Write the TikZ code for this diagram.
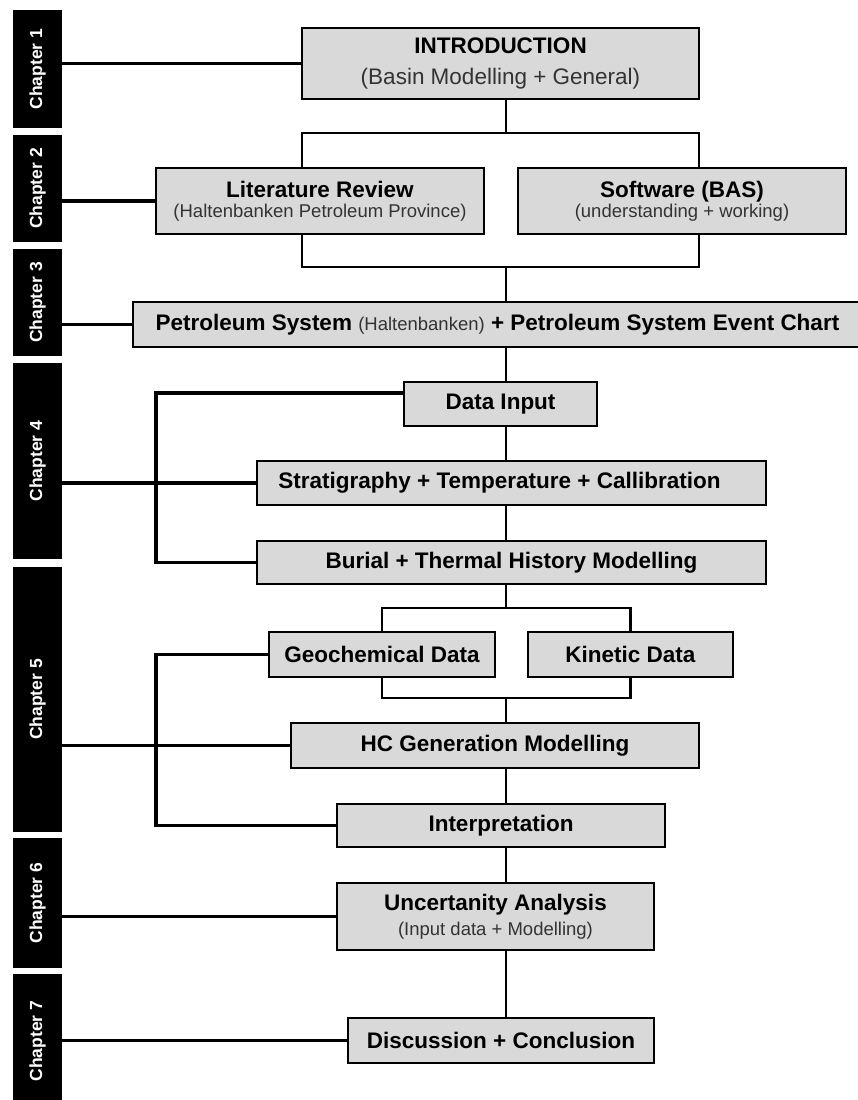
\documentclass[tikz,border=0pt]{standalone}
\usepackage{fontspec}
\setmainfont{Liberation Sans}
\usetikzlibrary{positioning}
\definecolor{boxgray}{RGB}{217,217,217}
\newcommand{\subtxt}[1]{{\mdseries\fontsize{18.5}{21}\selectfont\color{black!80}#1}}

\begin{document}
\begin{tikzpicture}[x=1pt, y=-1pt,
    chapter/.style={rectangle, fill=black, text=white, rotate=90, inner sep=0pt, minimum height=49pt, font=\bfseries\fontsize{17.5}{20}\selectfont},
    block/.style={rectangle, draw, line width=2.5pt, fill=boxgray, inner sep=0pt, align=center, font=\bfseries\fontsize{22.5}{26}\selectfont},
    link/.style={line width=2.2pt},
    chapline/.style={line width=3.5pt}
]
\useasboundingbox (0,0) rectangle (857,1100);

% Chapter bars
\node[chapter, minimum width=118pt] (ch1) at (37.5,69) {Chapter 1};
\node[chapter, minimum width=107pt] (ch2) at (37.5,188.5) {Chapter 2};
\node[chapter, minimum width=107pt] (ch3) at (37.5,302.5) {Chapter 3};
\node[chapter, minimum width=196pt] (ch4) at (37.5,461) {Chapter 4};
\node[chapter, minimum width=265pt] (ch5) at (37.5,699.5) {Chapter 5};
\node[chapter, minimum width=130pt] (ch6) at (37.5,903) {Chapter 6};
\node[chapter, minimum width=134pt] (ch7) at (37.5,1041) {Chapter 7};

% Boxes
\node[block, minimum width=397pt, minimum height=71pt, font=\bfseries\fontsize{22.5}{31}\selectfont] (intro) at (500.5,63.5) {INTRODUCTION\\{\mdseries\color{black!80}(Basin Modelling + General)}};
\node[block, minimum width=328pt, minimum height=66pt, font=\bfseries\fontsize{22.5}{20}\selectfont] (lit) at (320,201) {Literature Review\\\subtxt{(Haltenbanken Petroleum Province)}};
\node[block, minimum width=328pt, minimum height=66pt, font=\bfseries\fontsize{22.5}{20}\selectfont] (soft) at (682,201) {Software (BAS)\\\subtxt{(understanding + working)}};
\node[block, minimum width=729pt, minimum height=45pt] (petro) at (497.5,324.5) {Petroleum System \subtxt{(Haltenbanken)} + Petroleum System Event Chart};
\node[block, minimum width=193pt, minimum height=44pt] (datain) at (500.5,404) {Data Input};
\node[block, minimum width=509pt, minimum height=44pt] (strat) at (511.5,483) {Stratigraphy + Temperature + Callibration\hspace*{24pt}};
\node[block, minimum width=509pt, minimum height=43pt] (burial) at (511.5,562.5) {Burial + Thermal History Modelling};
\node[block, minimum width=226pt, minimum height=45pt] (geochem) at (382,654.5) {Geochemical Data};
\node[block, minimum width=205pt, minimum height=45pt] (kinetic) at (630.5,654.5) {Kinetic Data};
\node[block, minimum width=408pt, minimum height=45pt] (hcgen) at (495,745.5) {HC Generation Modelling};
\node[block, minimum width=328pt, minimum height=43pt] (interp) at (501,825.5) {Interpretation};
\node[block, minimum width=317pt, minimum height=67pt, font=\bfseries\fontsize{22.5}{25}\selectfont] (uncert) at (495.5,916.5) {Uncertanity Analysis\\\subtxt{(Input data + Modelling)}};
\node[block, minimum width=306pt, minimum height=45pt] (discuss) at (501,1040.5) {Discussion + Conclusion};

% Junction points
\coordinate (spine) at (506,0);
\coordinate (splitA) at (302,133);
\coordinate (splitB) at (699,133);
\coordinate (mergeA) at (302,267);
\coordinate (mergeB) at (699,267);
\coordinate (splitC) at (506,608);
\coordinate (mergeC) at (506,698);
\coordinate (brA) at (156,393);
\coordinate (brB) at (156,0);

% Flow
\draw[link] (intro.south -| spine) -- (spine |- splitA);
\draw[link] (lit.north -| splitA) -- (splitA) -- (splitB) -- (soft.north -| splitB);
\draw[link] (lit.south -| mergeA) -- (mergeA) -- (mergeB) -- (soft.south -| mergeB);
\draw[link] (spine |- mergeA) -- (petro.north -| spine);
\draw[link] (petro.south -| spine) -- (datain.north -| spine);
\draw[link] (datain.south -| spine) -- (strat.north -| spine);
\draw[link] (strat.south -| spine) -- (burial.north -| spine);
\draw[link] (burial.south -| spine) -- (splitC);
\draw[link] (geochem.north) |- (splitC) -| (kinetic.north);
\draw[link] (geochem.south) |- (mergeC) -| (kinetic.south);
\draw[link] (mergeC) -- (hcgen.north -| spine);
\draw[link] (hcgen.south -| spine) -- (interp.north -| spine);
\draw[link] (interp.south -| spine) -- (uncert.north -| spine);
\draw[link] (uncert.south -| spine) -- (discuss.north -| spine);

% Chapter links
\draw[chapline] (ch1.south |- intro.west) -- (intro.west);
\draw[chapline] (ch2.south |- lit.west) -- (lit.west);
\draw[chapline] (ch3.south |- petro.west) -- (petro.west);
\draw[chapline] (ch4.south |- strat.west) -- (strat.west);
\draw[chapline] (datain.west |- brA) -- (brA) |- (burial.west);
\draw[chapline] (ch5.south |- hcgen.west) -- (hcgen.west);
\draw[chapline] (geochem.west) -- (geochem.west -| brB) |- (interp.west);
\draw[chapline] (ch6.south |- uncert.west) -- (uncert.west);
\draw[chapline] (ch7.south |- discuss.west) -- (discuss.west);

\end{tikzpicture}
\end{document}
